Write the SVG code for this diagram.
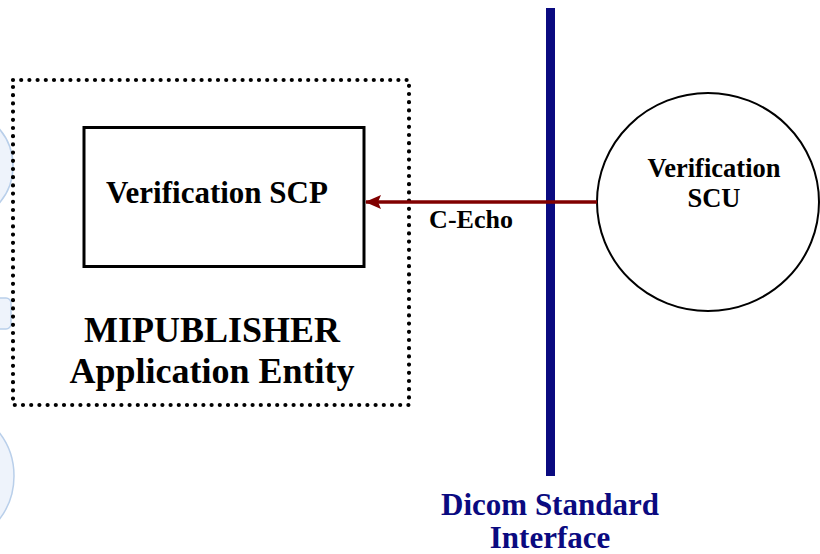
<svg xmlns="http://www.w3.org/2000/svg" width="820" height="554" viewBox="0 0 820 554">
<style>
.bg{fill:#eef3fb;stroke:#b9cfea;stroke-width:1.5}
.t{font-family:"Liberation Serif","Times New Roman",serif;font-weight:bold;fill:#000;text-anchor:middle}
.blue{fill:#0a0a80}
</style>
<defs>
<marker id="ah" viewBox="0 0 16 14" refX="15" refY="7" markerWidth="16" markerHeight="14" markerUnits="userSpaceOnUse" orient="auto">
<path d="M0,0 L16,7 L0,14 L3,7 Z" fill="#800000"/>
</marker>
</defs>
<rect width="820" height="554" fill="#fff"/>
<g id="background">
<circle class="bg" cx="-44" cy="166" r="57"/>
<rect class="bg" x="-20" y="298" width="31" height="31" rx="5"/>
<circle class="bg" cx="-57" cy="476" r="71"/>
</g>
<g id="ae">
<rect x="13" y="80" width="396" height="325" fill="none" stroke="#000" stroke-width="4.2" stroke-dasharray="0 8.2" stroke-linecap="round"/>
<text class="t" x="212" y="342" font-size="36">MIPUBLISHER</text>
<text class="t" x="212" y="383" font-size="36">Application Entity</text>
</g>
<g id="scp">
<rect x="84" y="127.5" width="280" height="139" fill="#fff" stroke="#000" stroke-width="3"/>
<text class="t" x="217" y="203" font-size="31">Verification SCP</text>
</g>
<g id="interface">
<rect x="546" y="8" width="9" height="468" class="blue"/>
<text class="t blue" x="550" y="515" font-size="31">Dicom Standard</text>
<text class="t blue" x="550" y="548" font-size="31">Interface</text>
</g>
<g id="scu">
<ellipse cx="708" cy="202" rx="111" ry="109" fill="#fff" stroke="#000" stroke-width="2"/>
<text class="t" x="714" y="177" font-size="26.5">Verification</text>
<text class="t" x="714" y="207" font-size="26.5">SCU</text>
</g>
<g id="connectors">
<line x1="597" y1="202" x2="366" y2="202" stroke="#800000" stroke-width="3.5" marker-end="url(#ah)"/>
<text class="t" x="471" y="228" font-size="26">C-Echo</text>
</g>
</svg>
